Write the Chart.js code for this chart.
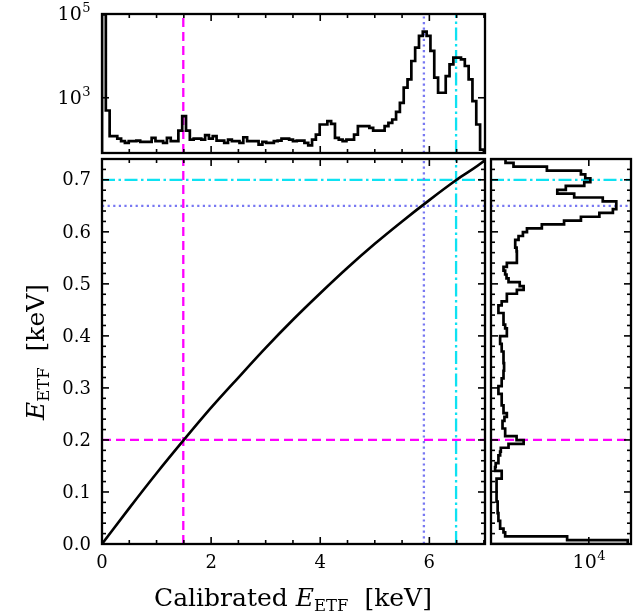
<!DOCTYPE html>
<html><head><meta charset="utf-8">
<script src="https://cdn.jsdelivr.net/npm/chart.js@4.4.1/dist/chart.umd.min.js"></script>
<style>
html,body{margin:0;padding:0;background:#fff;}
#wrap{position:relative;width:644px;height:612px;background:#fff;}
canvas{position:absolute;left:0;top:0;}
</style></head><body>
<div id="wrap">
<canvas id="cTop" width="644" height="612"></canvas>
<canvas id="cMain" width="644" height="612"></canvas>
<canvas id="cRight" width="644" height="612"></canvas>
</div>
<script>
// ---------------- data ----------------
const calibratedKeV = [0,0.5,1,1.5,2,2.5,3,3.5,4,4.5,5,5.5,6,6.5,7,7.02];
const etfKeV        = [0,0.069,0.136,0.2,0.262,0.320,0.377,0.431,0.482,0.531,0.577,0.620,0.661,0.700,0.736,0.738];

const calibBinWidth = 0.07;   // keV, 100 bins from 0 to 7
const calibCounts = [
 98000,497,121,121,106,92,84,92,92,95,
 88,88,88,110,92,92,84,110,92,92,
 165,364,165,100,106,106,100,128,106,121,
 95,95,84,100,92,92,84,114,92,92,
 92,76,88,84,84,92,95,106,106,100,
 92,95,95,84,73,100,132,230,230,276,
 238,110,100,92,100,100,132,210,210,210,
 191,165,165,165,210,252,303,462,759,1738,
 2750,7550,15770,30000,38100,30000,13100,3010,1318,1318,
 3300,6290,9080,9080,8280,5730,2750,832,230,58
];

const etfBinWidth = 0.0074;   // keV, 100 bins from 0 to 0.74
const etfCounts = [
 83600,3060,104,95,79,79,72,72,69,69,
 69,65,65,65,65,65,65,86,86,60,
 62,72,72,79,82,125,285,194,104,104,
 90,90,100,114,95,95,86,86,86,72,
 72,86,86,95,95,98,98,95,95,95,
 86,86,79,79,114,114,104,95,95,95,
 72,72,86,114,114,197,285,230,125,112,
 104,95,114,197,197,197,194,180,180,216,
 274,342,770,2590,6500,17800,37200,44800,44800,21400,
 4500,1790,2850,7800,10860,8240,6500,1014,164,106
];

const lineCalibrated = [1.49, 5.9, 6.49];
const lineEtf        = [0.2, 0.65, 0.7];

const xMajorTicks  = [0,2,4,6];
const xMajorLabels = ['0','2','4','6'];
const xMinorTicks  = [0.5,1,1.5,2.5,3,3.5,4.5,5,5.5,6.5,7];
const yMajorTicks  = [0,0.1,0.2,0.3,0.4,0.5,0.6,0.7];
const yMajorLabels = ['0.0','0.1','0.2','0.3','0.4','0.5','0.6','0.7'];
const yMinorTicks  = [0.02,0.04,0.06,0.08,0.12,0.14,0.16,0.18,0.22,0.24,0.26,0.28,0.32,0.34,0.36,0.38,
                      0.42,0.44,0.46,0.48,0.52,0.54,0.56,0.58,0.62,0.64,0.66,0.68,0.72];
const countTicksTop   = [1e3, 1e5];
const countExpTop     = ['3','5'];
const countTicksRight = [1e4];
const countExpRight   = ['4'];

const X_MIN = 0, X_MAX = 7.02, Y_MIN = 0, Y_MAX = 0.74, C_MIN = 48, C_MAX = 1e5;

// ---------------- styles ----------------
const SERIF = '"DejaVu Serif","Liberation Serif",serif';
const refStyles = [
  {color:'#ff00ff', dash:[9,5]},
  {color:'#7878f2', dash:[2.2,3.4]},
  {color:'#0ee2f2', dash:[13,3.5,2.5,3.5]}
];

function refDataset(points, i) {
  return {data: points, borderColor: refStyles[i].color, borderDash: refStyles[i].dash,
          borderWidth: 2.3, pointRadius: 0, tension: 0, fill: false};
}

function frame(cfg) {
  return {
    id: 'frame',
    afterDatasetsDraw(chart) {
      const ctx = chart.ctx, a = chart.chartArea, xs = chart.scales.x, ys = chart.scales.y;
      ctx.save();
      ctx.strokeStyle = '#000'; ctx.fillStyle = '#000'; ctx.lineCap = 'butt'; ctx.setLineDash([]);
      const seg = (x1,y1,x2,y2) => {ctx.beginPath(); ctx.moveTo(x1,y1); ctx.lineTo(x2,y2); ctx.stroke();};
      const xt = (vals,len) => vals.forEach(v => {const p = xs.getPixelForValue(v); seg(p,a.bottom,p,a.bottom-len); seg(p,a.top,p,a.top+len);});
      const yt = (vals,len) => vals.forEach(v => {const p = ys.getPixelForValue(v); seg(a.left,p,a.left+len,p); seg(a.right,p,a.right-len,p);});
      ctx.lineWidth = 1.6;
      xt(cfg.xMajor||[],7); xt(cfg.xMinor||[],4); yt(cfg.yMajor||[],7); yt(cfg.yMinor||[],4);
      ctx.lineWidth = 2.3;
      ctx.strokeRect(a.left, a.top, a.right-a.left, a.bottom-a.top);
      if (cfg.labels) cfg.labels(ctx, xs, ys, a);
      ctx.restore();
    }
  };
}

function drawPow(ctx, exp, cx, cy, align) {
  ctx.textBaseline = 'middle'; ctx.textAlign = 'left';
  ctx.font = '19px ' + SERIF;
  const w1 = ctx.measureText('10').width;
  ctx.font = '13px ' + SERIF;
  const w2 = ctx.measureText(exp).width;
  const left = align === 'right' ? cx - w1 - w2 : cx - (w1 + w2) / 2;
  ctx.font = '19px ' + SERIF;
  ctx.fillText('10', left, cy);
  ctx.font = '13px ' + SERIF;
  ctx.fillText(exp, left + w1 + 0.5, cy - 6.5);
}

function drawRich(ctx, parts, x, y, align) {
  let total = 0;
  parts.forEach(p => {ctx.font = p.font; total += ctx.measureText(p.t).width;});
  let cur = align === 'center' ? x - total / 2 : x;
  ctx.textAlign = 'left'; ctx.textBaseline = 'alphabetic';
  parts.forEach(p => {ctx.font = p.font; ctx.fillText(p.t, cur, y + (p.dy||0)); cur += ctx.measureText(p.t).width;});
}

function titleParts(prefix) {
  const parts = [];
  if (prefix) parts.push({t: prefix, font: '25px ' + SERIF});
  parts.push({t: 'E', font: 'italic 25px ' + SERIF});
  parts.push({t: 'ETF', font: '16.5px ' + SERIF, dy: 5});
  parts.push({t: '  [keV]', font: '25px ' + SERIF});
  return parts;
}

const baseOpts = (pad, xType, yType, xr, yr) => ({
  responsive: false, animation: false, devicePixelRatio: 1,
  layout: {padding: pad, autoPadding: false},
  plugins: {legend: {display: false}, tooltip: {enabled: false}},
  events: [],
  scales: {
    x: {type: xType, min: xr[0], max: xr[1], display: false},
    y: {type: yType, min: yr[0], max: yr[1], display: false}
  }
});

// ---------------- top histogram ----------------
const topPts = [{x: 0, y: 1}];
calibCounts.forEach((c, k) => topPts.push({x: k * calibBinWidth, y: c}));
topPts.push({x: calibCounts.length * calibBinWidth, y: calibCounts[calibCounts.length-1]});
topPts.push({x: calibCounts.length * calibBinWidth, y: 1});

new Chart(document.getElementById('cTop'), {
  type: 'line',
  data: {datasets: [
    {data: topPts, borderColor: '#000', borderWidth: 2.7, pointRadius: 0, stepped: 'before', fill: false},
    ...lineCalibrated.map((v,i) => refDataset([{x:v,y:C_MIN},{x:v,y:C_MAX}], i))
  ]},
  options: baseOpts({left:102, top:14, right:644-485, bottom:612-153}, 'linear', 'logarithmic', [X_MIN,X_MAX], [C_MIN,C_MAX]),
  plugins: [frame({xMajor: xMajorTicks, xMinor: xMinorTicks, yMajor: countTicksTop,
    labels: (ctx, xs, ys) => countTicksTop.forEach((v,i) => drawPow(ctx, countExpTop[i], 90, ys.getPixelForValue(v) + 1.5, 'right'))})]
});

// ---------------- main calibration curve ----------------
new Chart(document.getElementById('cMain'), {
  type: 'line',
  data: {datasets: [
    {data: calibratedKeV.map((x,i) => ({x, y: etfKeV[i]})), borderColor: '#000', borderWidth: 2.6,
     pointRadius: 0, cubicInterpolationMode: 'monotone', fill: false},
    ...lineCalibrated.map((v,i) => refDataset([{x:v,y:Y_MIN},{x:v,y:Y_MAX}], i)),
    ...lineEtf.map((v,i) => refDataset([{x:X_MIN,y:v},{x:X_MAX,y:v}], i))
  ]},
  options: baseOpts({left:102, top:159, right:644-485, bottom:612-544}, 'linear', 'linear', [X_MIN,X_MAX], [Y_MIN,Y_MAX]),
  plugins: [frame({xMajor: xMajorTicks, xMinor: xMinorTicks, yMajor: yMajorTicks, yMinor: yMinorTicks,
    labels: (ctx, xs, ys, a) => {
      ctx.font = '18px ' + SERIF; ctx.textBaseline = 'middle';
      ctx.textAlign = 'center';
      xMajorTicks.forEach((v,i) => ctx.fillText(xMajorLabels[i], xs.getPixelForValue(v), 563));
      ctx.textAlign = 'right';
      yMajorTicks.forEach((v,i) => ctx.fillText(yMajorLabels[i], 91, ys.getPixelForValue(v) + 1));
      drawRich(ctx, titleParts('Calibrated '), 293, 606, 'center');
      ctx.save();
      ctx.translate(44, 352);
      ctx.rotate(-Math.PI/2);
      drawRich(ctx, titleParts(''), 0, 0, 'center');
      ctx.restore();
    }})]
});

// ---------------- right histogram ----------------
const rightPts = [{x: 1, y: 0}];
etfCounts.forEach((c, k) => rightPts.push({x: c, y: k * etfBinWidth}));
rightPts.push({x: etfCounts[etfCounts.length-1], y: etfCounts.length * etfBinWidth});
rightPts.push({x: 1, y: etfCounts.length * etfBinWidth});

new Chart(document.getElementById('cRight'), {
  type: 'line',
  data: {datasets: [
    {data: rightPts, borderColor: '#000', borderWidth: 2.7, pointRadius: 0, stepped: 'after', fill: false},
    ...lineEtf.map((v,i) => refDataset([{x:C_MIN,y:v},{x:C_MAX,y:v}], i))
  ]},
  options: baseOpts({left:491, top:159, right:644-631, bottom:612-544}, 'logarithmic', 'linear', [C_MIN,C_MAX], [Y_MIN,Y_MAX]),
  plugins: [frame({xMajor: countTicksRight, yMajor: yMajorTicks, yMinor: yMinorTicks,
    labels: (ctx, xs) => countTicksRight.forEach((v,i) => drawPow(ctx, countExpRight[i], xs.getPixelForValue(v), 563, 'center'))})]
});
</script>
</body></html>
